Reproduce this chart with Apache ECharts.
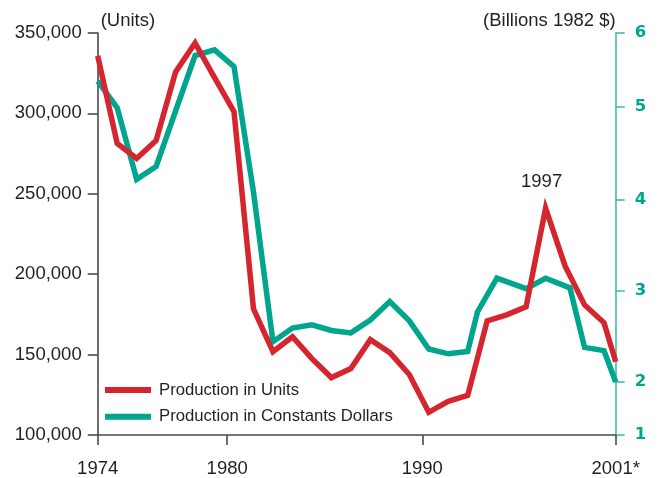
<!DOCTYPE html>
<html>
<head>
<meta charset="utf-8">
<script src="https://cdn.jsdelivr.net/npm/echarts@6/dist/echarts.min.js"></script>
<style>
html,body{margin:0;padding:0;background:#fff;}
#chart{width:658px;height:478px;}
</style>
</head>
<body>
<div id="chart"></div>
<script>
// ---- data ----
const unitYears = [1974,1975,1976,1977,1978,1979,1980,1981,1982,1983,1984,1985,1986,1987,1988,1989,1990,1991,1992,1993,1994,1995,1996,1997,1998,1999,2000,2000.6];
const unitValues = [335800,281300,272000,283100,325800,343800,322200,301100,178500,151800,161100,147500,135700,141300,159300,151200,137600,114100,120900,124600,171000,174700,179700,241000,205100,180900,169800,145600];

const dollarYears = [1974,1975,1976,1977,1978,1979,1980,1981,1982,1983,1984,1985,1986,1987,1988,1989,1990,1991,1992,1993,1993.5,1994.5,1996,1997,1998.25,1999,2000,2000.6];
const dollarValues = [5.40,5.07,4.18,4.34,5.03,5.72,5.79,5.58,4.02,2.16,2.33,2.37,2.30,2.27,2.43,2.66,2.42,2.07,2.01,2.04,2.53,2.95,2.82,2.95,2.83,2.09,2.05,1.66];

const xTickValues = [1974, 1980.65, 1990.67, 2000.6];
const xTickLabels = ['1974', '1980', '1990', '2001*'];

const leftTickMin = 100000, leftTickMax = 350000, leftTickStep = 50000;

const rightTickValues = [1, 1.66, 2.80, 3.93, 5.08, 6];
const rightTickLabels = ['1', '2', '3', '4', '5', '6'];

const seriesNames = ['Production in Units', 'Production in Constants Dollars'];
const axisNames = ['(Units)', '(Billions 1982 $)'];
const peakYear = 1997;
const peakLabel = '1997';

// ---- chart ----
const RED = '#d5262f';
const GREEN = '#00a58d';
const TEAL_AXIS = '#3fbdac';
const DARK = '#231f20';
const AXIS_GRAY = '#4a4a4a';
const FONT = 'Liberation Sans, Arial, Helvetica, sans-serif';

function lookupLabel(values, labels, v) {
  let idx = 0, best = Infinity;
  values.forEach((t, i) => { const d = Math.abs(t - v); if (d < best) { best = d; idx = i; } });
  return labels[idx];
}

const chart = echarts.init(document.getElementById('chart'), null, {renderer: 'canvas'});
const peakIdx = unitYears.indexOf(peakYear);

chart.setOption({
  animation: false,
  backgroundColor: '#ffffff',
  textStyle: {fontFamily: FONT},
  grid: {left: 97.7, right: 42.3, top: 33, bottom: 41.3, containLabel: false},
  legend: {
    data: [seriesNames[0], seriesNames[1]],
    orient: 'vertical',
    left: 105,
    top: 381,
    padding: 0,
    icon: 'rect',
    itemWidth: 46,
    itemHeight: 6,
    itemGap: 8.7,
    textStyle: {fontSize: 16.7, color: DARK, fontFamily: FONT, lineHeight: 18, padding: [0, 0, 0, 3]},
    selectedMode: false
  },
  xAxis: {
    type: 'value',
    min: 1974,
    max: 2000.6,
    splitLine: {show: false},
    axisLine: {show: true, lineStyle: {color: AXIS_GRAY, width: 1.6}},
    axisTick: {show: true, customValues: xTickValues, length: 10, lineStyle: {color: AXIS_GRAY, width: 1.6}},
    axisLabel: {
      customValues: xTickValues,
      formatter: v => lookupLabel(xTickValues, xTickLabels, v),
      margin: 24,
      fontSize: 18.5,
      color: DARK,
      fontFamily: FONT
    }
  },
  yAxis: [
    {
      type: 'value',
      position: 'left',
      min: leftTickMin,
      max: leftTickMax,
      interval: leftTickStep,
      name: axisNames[0],
      nameLocation: 'end',
      nameGap: 12,
      nameTextStyle: {align: 'left', verticalAlign: 'middle', fontSize: 18.5, color: DARK, fontFamily: FONT, padding: [0, 0, 0, 3]},
      splitLine: {show: false},
      axisLine: {show: true, lineStyle: {color: AXIS_GRAY, width: 1.6}},
      axisTick: {show: true, length: 10, lineStyle: {color: AXIS_GRAY, width: 1.6}},
      axisLabel: {
        margin: 16,
        fontSize: 18.5,
        color: DARK,
        fontFamily: FONT,
        formatter: v => v.toLocaleString('en-US')
      }
    },
    {
      type: 'value',
      position: 'right',
      min: 1,
      max: 6,
      name: axisNames[1],
      nameLocation: 'end',
      nameGap: 12,
      nameTextStyle: {align: 'right', verticalAlign: 'middle', fontSize: 18.5, color: DARK, fontFamily: FONT},
      splitLine: {show: false},
      axisLine: {show: true, lineStyle: {color: TEAL_AXIS, width: 1.6}},
      axisTick: {show: true, customValues: rightTickValues, length: 9, lineStyle: {color: TEAL_AXIS, width: 1.6}},
      axisLabel: {
        customValues: rightTickValues,
        formatter: v => lookupLabel(rightTickValues, rightTickLabels, v),
        margin: 19,
        fontSize: 16.5,
        fontWeight: 'bold',
        color: GREEN,
        fontFamily: 'DejaVu Sans, sans-serif'
      }
    }
  ],
  series: [
    {
      name: seriesNames[1],
      type: 'line',
      yAxisIndex: 1,
      showSymbol: false,
      symbol: 'none',
      color: GREEN,
      lineStyle: {color: GREEN, width: 5.5, join: 'miter', miterLimit: 10},
      data: dollarYears.map((y, i) => [y, dollarValues[i]]),
      z: 2
    },
    {
      name: seriesNames[0],
      type: 'line',
      yAxisIndex: 0,
      showSymbol: false,
      symbol: 'none',
      color: RED,
      lineStyle: {color: RED, width: 5.5, join: 'miter', miterLimit: 10},
      data: unitYears.map((y, i) => [y, unitValues[i]]),
      markPoint: {
        symbol: 'circle',
        symbolSize: 0,
        silent: true,
        label: {show: true, position: 'top', distance: 17, offset: [-4, 0], formatter: peakLabel, fontSize: 18.5, color: DARK, fontFamily: FONT},
        data: [{coord: [unitYears[peakIdx], unitValues[peakIdx]]}]
      },
      z: 3
    }
  ]
});
</script>
</body>
</html>
